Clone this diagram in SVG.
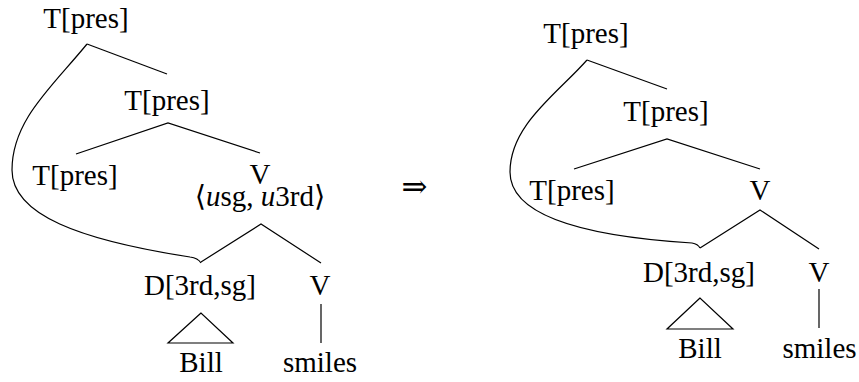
<svg xmlns="http://www.w3.org/2000/svg" width="859" height="382" viewBox="0 0 859 382">
<style>
text{font-family:"Liberation Serif","DejaVu Serif",serif;font-size:29px;fill:#000;text-anchor:middle}
.l{stroke:#000;stroke-width:1.2;fill:none}
</style>
<rect width="859" height="382" fill="#fff"/>
<g id="connectors">
<path class="l" d="M87,44 L167,74"/>
<path class="l" d="M76,154 L168,123 L260,153"/>
<path class="l" d="M201,262 L261,224 L321,263"/>
<path class="l" d="M321,304 L321,343"/>
<path class="l" d="M201,313 L168,343 L233,343 Z"/>
<path class="l" d="M87,44 C52,87 12,120 12,170 C12,215 80,240 190,257 Q198,258 201,263"/>
<path class="l" d="M587,60 L667,89"/>
<path class="l" d="M574,169 L667,139 L760,169"/>
<path class="l" d="M700,248 L760,210 L819,249"/>
<path class="l" d="M819,289 L819,328"/>
<path class="l" d="M700,298 L667,329 L733,329 Z"/>
<path class="l" d="M587,60 C557,94 510,125 510,172 C510,215 580,236 692,243 Q698,244 700,248"/>
</g>
<g id="L-Ttop"><text x="86" y="28">T[pres]</text></g>
<g id="L-Tmid"><text x="167" y="110">T[pres]</text></g>
<g id="L-Tlow"><text x="75" y="185">T[pres]</text></g>
<g id="L-V"><text x="260" y="184">V</text><text x="260" y="206">⟨<tspan font-style="italic">u</tspan>sg, <tspan font-style="italic">u</tspan>3rd⟩</text></g>
<g id="L-D"><text x="200" y="295">D[3rd,sg]</text></g>
<g id="L-V2"><text x="320" y="295">V</text></g>
<g id="L-Bill"><text x="201" y="372">Bill</text></g>
<g id="L-smiles"><text x="320" y="372">smiles</text></g>
<g id="arrow"><text x="414.5" y="197" style="font-size:31px">⇒</text></g>
<g id="R-Ttop"><text x="586" y="43">T[pres]</text></g>
<g id="R-Tmid"><text x="666" y="121">T[pres]</text></g>
<g id="R-Tlow"><text x="572" y="200">T[pres]</text></g>
<g id="R-V"><text x="760" y="200">V</text></g>
<g id="R-D"><text x="699" y="282">D[3rd,sg]</text></g>
<g id="R-V2"><text x="819" y="282">V</text></g>
<g id="R-Bill"><text x="700" y="358">Bill</text></g>
<g id="R-smiles"><text x="819.5" y="358">smiles</text></g>
</svg>
